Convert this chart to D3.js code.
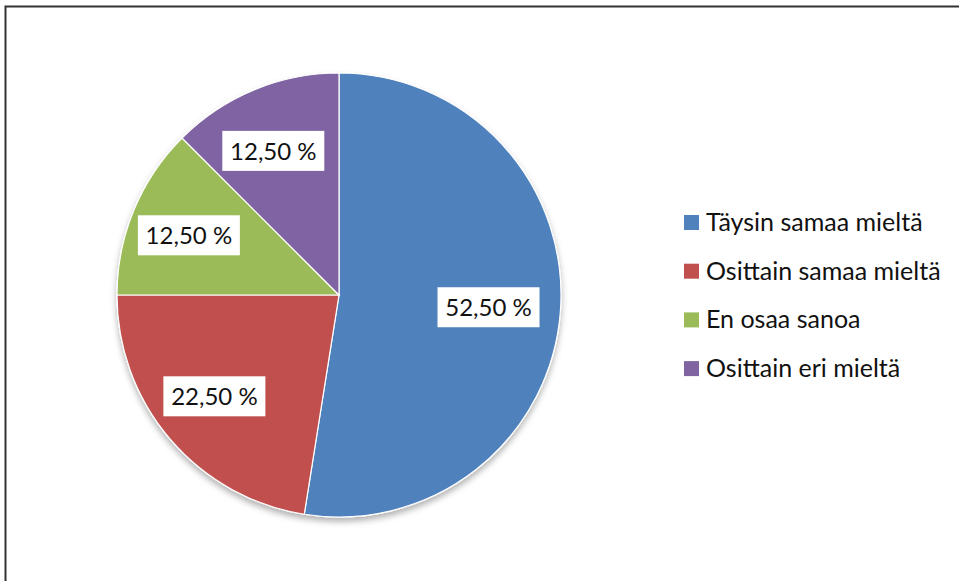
<!DOCTYPE html>
<html>
<head>
<meta charset="utf-8">
<script src="https://cdn.jsdelivr.net/npm/d3@7"></script>
<style>
  body { margin: 0; background: #fff; }
  svg { display: block; }
</style>
</head>
<body>
<div id="chart"></div>
<script>
// vastaukset ja osuudet (%)
const categories = ["Täysin samaa mieltä", "Osittain samaa mieltä", "En osaa sanoa", "Osittain eri mieltä"];
const values = [52.5, 22.5, 12.5, 12.5];
const labels = ["52,50 %", "22,50 %", "12,50 %", "12,50 %"];
const colors = ["#4f81bd", "#c0504d", "#9bbb59", "#8064a2"];

const w = 959;
const h = 581;
const cx = 339, cy = 295, r = 222;
const font = "Lato, 'Open Sans', sans-serif";

const svg = d3.select("#chart")
  .append("svg")
  .attr("width", w)
  .attr("height", h);

// varjo piirakan alle
const defs = svg.append("defs");
const f = defs.append("filter").attr("id", "shadow")
  .attr("x", "-10%").attr("y", "-10%").attr("width", "120%").attr("height", "125%");
f.append("feDropShadow")
  .attr("dx", 0).attr("dy", 4).attr("stdDeviation", 3)
  .attr("flood-color", "#000").attr("flood-opacity", 0.3);

// kehys
svg.append("rect")
  .attr("x", 5.5).attr("y", 6.5)
  .attr("width", w + 10).attr("height", h + 10)
  .attr("fill", "none")
  .attr("stroke", "#333")
  .attr("stroke-width", 2);

const pie = d3.pie().sort(null).value(d => d);
const arcs = pie(values);
const arc = d3.arc().innerRadius(0).outerRadius(r);
const labelArc = d3.arc().innerRadius(156).outerRadius(156);

const g = svg.append("g").attr("transform", "translate(" + cx + "," + cy + ")");

g.append("g")
  .attr("filter", "url(#shadow)")
  .selectAll("path")
  .data(arcs)
  .enter()
  .append("path")
  .attr("d", arc)
  .attr("fill", (d, i) => colors[i])
  .attr("stroke", "#fff")
  .attr("stroke-width", 1.2);

// arvolaatikot
const lab = g.selectAll(".lab")
  .data(arcs)
  .enter()
  .append("g")
  .attr("class", "lab")
  .attr("transform", d => {
    const c = labelArc.centroid(d);
    return "translate(" + (c[0] - 6) + "," + c[1] + ")";
  });

lab.append("rect")
  .attr("x", -51).attr("y", -20)
  .attr("width", 102).attr("height", 40)
  .attr("fill", "#fff");

lab.append("text")
  .attr("text-anchor", "middle")
  .attr("dy", "0.36em")
  .attr("font-family", font)
  .attr("font-size", 24)
  .attr("fill", "#111")
  .text((d, i) => labels[i]);

// selite
const legend = svg.append("g").attr("transform", "translate(684, 222)");
const item = legend.selectAll("g")
  .data(categories)
  .enter()
  .append("g")
  .attr("transform", (d, i) => "translate(0," + i * 48.7 + ")");

item.append("rect")
  .attr("x", 0).attr("y", -7)
  .attr("width", 15).attr("height", 15)
  .attr("fill", (d, i) => colors[i]);

item.append("text")
  .attr("x", 22)
  .attr("dy", "0.36em")
  .attr("font-family", font)
  .attr("font-size", 25)
  .attr("fill", "#111")
  .text(d => d);
</script>
</body>
</html>
